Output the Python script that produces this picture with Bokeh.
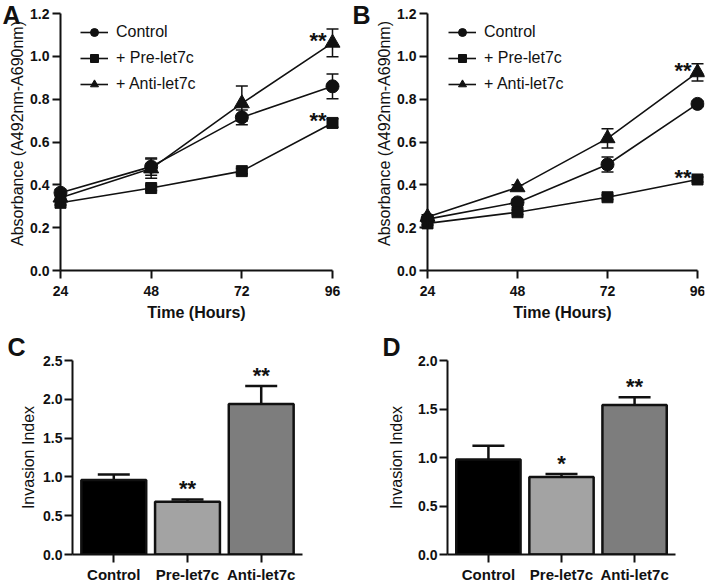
import numpy as np
from bokeh.plotting import figure
from bokeh.models import (ColumnDataSource, Whisker, TeeHead, FixedTicker, Title, Label,
                          Legend, LegendItem, NumeralTickFormatter, Range1d, FactorRange)
from bokeh.layouts import row, column
from bokeh.embed import file_html
from bokeh.resources import INLINE
from bokeh.core.properties import value

# ---------------- data ----------------
hours = [24, 48, 72, 96]
hour_labels = ["24", "48", "72", "96"]
series_names = ["Control", "+ Pre-let7c", "+ Anti-let7c"]
abs_ticks = [0.0, 0.2, 0.4, 0.6, 0.8, 1.0, 1.2]
abs_tick_labels = ["0.0", "0.2", "0.4", "0.6", "0.8", "1.0", "1.2"]

a_control = [0.363, 0.485, 0.715, 0.860]
a_control_err = [0.015, 0.040, 0.035, 0.058]
a_pre = [0.316, 0.385, 0.464, 0.689]
a_pre_err = [0.010, 0.012, 0.012, 0.020]
a_anti = [0.340, 0.476, 0.780, 1.063]
a_anti_err = [0.010, 0.045, 0.082, 0.065]

b_control = [0.240, 0.318, 0.495, 0.778]
b_control_err = [0.010, 0.015, 0.035, 0.012]
b_pre = [0.220, 0.272, 0.342, 0.425]
b_pre_err = [0.008, 0.010, 0.010, 0.012]
b_anti = [0.250, 0.388, 0.617, 0.925]
b_anti_err = [0.010, 0.012, 0.045, 0.040]

groups = ["Control", "Pre-let7c", "Anti-let7c"]
c_vals = [0.96, 0.68, 1.94]
c_err = [0.07, 0.03, 0.23]
c_stars = ["", "**", "**"]
c_ticks = [0.0, 0.5, 1.0, 1.5, 2.0, 2.5]

d_vals = [0.98, 0.80, 1.54]
d_err = [0.14, 0.03, 0.08]
d_stars = ["", "*", "**"]
d_ticks = [0.0, 0.5, 1.0, 1.5, 2.0]

bar_colors = ["#000000", "#a3a3a3", "#7d7d7d"]

# ---------------- style ----------------
INK = "#111111"
FONT = "Liberation Sans"
H_TOP = 321
H_BOT = 264
BOT_T, BOT_B = 39, 28
TICK = 8


def style_axis(ax, size="14px"):
    ax.axis_line_width = 2
    ax.axis_line_color = INK
    ax.major_tick_line_width = 2
    ax.major_tick_line_color = INK
    ax.major_tick_out = TICK
    ax.major_tick_in = 0
    ax.minor_tick_line_color = None
    ax.major_label_text_font = FONT
    ax.major_label_text_font_size = size
    ax.major_label_text_font_style = "bold"
    ax.major_label_text_color = INK
    ax.major_label_standoff = 3
    ax.axis_label_text_font = FONT
    ax.axis_label_text_color = INK


def inner_axis(ax, ticks):
    # axis drawn at a fixed data location inside the frame, ticks pointing outwards;
    # its tick labels are drawn as text glyphs
    style_axis(ax)
    ax.ticker = FixedTicker(ticks=ticks)
    ax.bounds = (ticks[0], ticks[-1])
    ax.major_tick_out = 0
    ax.major_tick_in = TICK
    ax.major_label_overrides = {t: "" for t in ticks}
    ax.major_label_text_color = None
    ax.major_label_standoff = 0


def line_panel(letter, ctrl, ctrl_e, pre, pre_e, anti, anti_e, width, right, axis_px, end_px,
               leg_x, ylab_x):
    fw = width - right
    fh = H_TOP
    sx = (end_px - axis_px) / (hours[-1] - hours[0])
    x0 = hours[0] - axis_px / sx
    top_px, zero_px = 13, 270
    sy = (zero_px - top_px) / abs_ticks[-1]
    y0 = -(fh - zero_px) / sy
    p = figure(width=width, height=H_TOP, x_range=Range1d(x0, x0 + fw / sx),
               y_range=Range1d(y0, y0 + fh / sy), y_axis_location="right",
               x_axis_location="above",
               output_backend="svg", toolbar_location=None,
               min_border_left=0, min_border_right=right,
               min_border_top=0, min_border_bottom=0)
    p.outline_line_color = None
    p.grid.visible = False
    inner_axis(p.yaxis[0], abs_ticks)
    p.yaxis.fixed_location = hours[0]
    inner_axis(p.xaxis[0], hours)
    p.xaxis.fixed_location = abs_ticks[0]

    ytick_src = ColumnDataSource(dict(x=[hours[0]] * len(abs_ticks), y=abs_ticks, t=abs_tick_labels))
    p.text("x", "y", text="t", source=ytick_src, text_align="right", text_baseline="middle",
           x_offset=-(TICK + 3), text_font=value(FONT), text_font_size="14px",
           text_font_style="bold", text_color=INK)
    xtick_src = ColumnDataSource(dict(x=hours, y=[abs_ticks[0]] * len(hours), t=hour_labels))
    p.text("x", "y", text="t", source=xtick_src, text_align="center", text_baseline="middle",
           y_offset=TICK + 12, text_font=value(FONT), text_font_size="14px",
           text_font_style="bold", text_color=INK)
    p.add_layout(Label(x=(hours[0] + hours[-1]) / 2, y=1, x_units="data", y_units="screen",
                       text="Time (Hours)", text_align="center", text_baseline="bottom",
                       text_font=FONT, text_font_size="16px", text_font_style="bold",
                       text_color=INK))

    markers = ["circle", "square", "triangle"]
    sizes = [13, 11, 15]
    items = []
    for name, vals, errs, mk, sz in zip(series_names, [ctrl, pre, anti], [ctrl_e, pre_e, anti_e],
                                        markers, sizes):
        v = np.array(vals)
        e = np.array(errs)
        src = ColumnDataSource(dict(x=hours, y=vals, upper=v + e, lower=v - e))
        w = Whisker(base="x", upper="upper", lower="lower", source=src, line_color=INK,
                    line_width=1.5,
                    upper_head=TeeHead(size=12, line_width=1.5, line_color=INK),
                    lower_head=TeeHead(size=12, line_width=1.5, line_color=INK))
        p.add_layout(w)
        lr = p.line("x", "y", source=src, line_color=INK, line_width=1.6)
        sr = p.scatter("x", "y", source=src, marker=mk, size=sz, fill_color=INK, line_color=INK)
        items.append(LegendItem(label=name, renderers=[lr, sr]))

    star_src = ColumnDataSource(dict(x=[hours[-1], hours[-1]], y=[anti[-1], pre[-1]], t=["**", "**"]))
    p.text("x", "y", text="t", source=star_src, text_align="right", text_baseline="middle",
           x_offset=-6, y_offset=-2, text_font=value(FONT), text_font_size="22px",
           text_font_style="bold", text_color=INK)

    legend = Legend(items=items, location=(leg_x, fh - 22 - 72), border_line_color=None,
                    background_fill_alpha=0, label_text_font=FONT, label_text_font_size="16px",
                    label_text_color=INK, glyph_width=28, glyph_height=20, label_height=20,
                    spacing=6, padding=0, margin=0, label_standoff=8)
    p.add_layout(legend)

    p.add_layout(Label(x=ylab_x, y=fh - 133, x_units="screen", y_units="screen",
                       text="Absorbance (A492nm-A690nm)", angle=np.pi / 2,
                       text_align="center", text_baseline="middle",
                       text_font=FONT, text_font_size="16px", text_color=INK))
    p.add_layout(Label(x=2, y=fh, x_units="screen", y_units="screen",
                       text=letter, text_baseline="top", text_align="left",
                       text_font=FONT, text_font_size="25px", text_font_style="bold",
                       text_color=INK))
    return p


def bar_panel(letter, vals, errs, stars, ymax, ticks, width, left, right, pad, lab_standoff,
              letter_x):
    p = figure(width=width, height=H_BOT, x_range=FactorRange(*groups, range_padding=pad),
               y_range=Range1d(0, ymax), output_backend="svg", toolbar_location=None,
               min_border_left=left, min_border_right=right,
               min_border_top=BOT_T, min_border_bottom=BOT_B)
    p.outline_line_color = None
    p.grid.visible = False
    style_axis(p.xaxis[0], "15px")
    style_axis(p.yaxis[0])
    p.yaxis.ticker = FixedTicker(ticks=ticks)
    p.yaxis.formatter = NumeralTickFormatter(format="0.0")
    p.yaxis.axis_label = "Invasion Index"
    p.yaxis.axis_label_text_font_size = "16px"
    p.yaxis.axis_label_text_font_style = "normal"
    p.yaxis.axis_label_standoff = lab_standoff
    p.yaxis.major_label_standoff = 2
    p.xaxis.major_label_standoff = 3

    v = np.array(vals)
    e = np.array(errs)
    src = ColumnDataSource(dict(x=groups, top=vals, upper=v + e, lower=v, color=bar_colors, s=stars))
    p.add_layout(Whisker(base="x", upper="upper", lower="lower", source=src, line_color=INK,
                         line_width=2.5, level="underlay",
                         upper_head=TeeHead(size=32, line_width=2.5, line_color=INK),
                         lower_head=None))
    p.vbar(x="x", top="top", bottom=0, width=0.88, source=src, fill_color="color",
           line_color=INK, line_width=2.5)
    p.text("x", "upper", text="s", source=src, text_align="center", text_baseline="bottom",
           y_offset=2, text_font=value(FONT), text_font_size="22px", text_font_style="bold",
           text_color=INK)
    p.add_layout(Title(text=letter, align="left", offset=letter_x - left, standoff=-1,
                       text_font=FONT, text_font_size="25px", text_font_style="bold",
                       text_color=INK), "above")
    return p


pA = line_panel("A", a_control, a_control_err, a_pre, a_pre_err, a_anti, a_anti_err,
                350, 5, 60, 332, 80, 17)
pB = line_panel("B", b_control, b_control_err, b_pre, b_pre_err, b_anti, b_anti_err,
                356, 2, 77, 347, 98, 34)
pC = bar_panel("C", c_vals, c_err, c_stars, 2.5, c_ticks, 350, 72, 48, 0.04, 3, 7)
pD = bar_panel("D", d_vals, d_err, d_stars, 2.0, d_ticks, 356, 97, 31, 0.04, 10, 32)

layout = column(row(pA, pB), row(pC, pD))
open("out.html", "w").write(file_html(layout, INLINE))
